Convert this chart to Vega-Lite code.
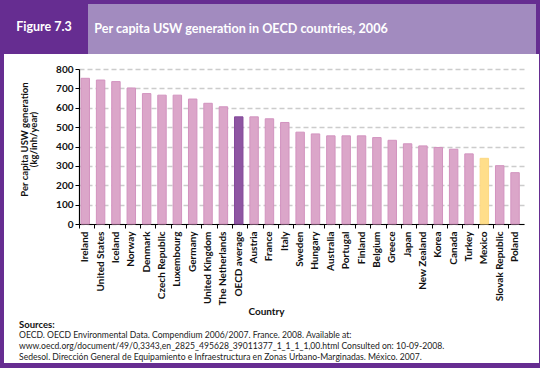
{
  "$schema": "https://vega.github.io/schema/vega-lite/v6.json",
  "padding": 0,
  "background": "white",
  "spacing": 0,
  "config": {
    "view": {"stroke": null},
    "concat": {"spacing": 0},
    "font": "Lato"
  },
  "vconcat": [
    {
      "spacing": 0,
      "bounds": "flush",
      "hconcat": [
        {
          "width": 88, "height": 54,
          "view": {"fill": "#662D91", "stroke": null},
          "data": {"values": [{"t": "Figure 7.3"}]},
          "mark": {"type": "text", "font": "Lato", "fontWeight": "bold", "fontSize": 12.5, "color": "white"},
          "encoding": {"text": {"field": "t"}}
        },
        {
          "spacing": 0,
          "bounds": "flush",
          "vconcat": [
            {
              "width": 452, "height": 4,
              "view": {"fill": "#662D91", "stroke": null},
              "data": {"values": []},
              "mark": "text"
            },
            {
              "spacing": 0,
              "bounds": "flush",
              "hconcat": [
                {
                  "width": 306, "height": 50,
                  "view": {"fill": "#A28BBF", "stroke": null},
                  "data": {"values": [{"t": "Per capita USW generation in OECD countries, 2006"}]},
                  "mark": {"type": "text", "font": "Lato", "fontWeight": "bold", "fontSize": 12.6, "color": "white"},
                  "encoding": {"text": {"field": "t"}}
                },
                {
                  "width": 142, "height": 50,
                  "view": {"fill": "#A28BBF", "stroke": null},
                  "data": {"values": []},
                  "mark": "text"
                },
                {
                  "width": 4, "height": 50,
                  "view": {"fill": "#662D91", "stroke": null},
                  "data": {"values": []},
                  "mark": "text"
                }
              ]
            }
          ]
        }
      ]
    },
    {
      "spacing": 0,
      "hconcat": [
        {
          "width": 4, "height": 309,
          "view": {"fill": "#662D91", "stroke": null},
          "data": {"values": []},
          "mark": "text"
        },
        {
          "width": 15, "height": 10,
          "data": {"values": []},
          "mark": "text"
        },
        {
          "spacing": 0,
          "vconcat": [
            {
              "width": 1, "height": 10,
              "data": {"values": []},
              "mark": "text"
            },
            {
              "width": 445,
              "height": 155,
              "data": {
                "values": [
                  {"country": "Ireland", "value": 752, "kind": "country"},
                  {"country": "United States", "value": 743, "kind": "country"},
                  {"country": "Iceland", "value": 735, "kind": "country"},
                  {"country": "Norway", "value": 702, "kind": "country"},
                  {"country": "Denmark", "value": 673, "kind": "country"},
                  {"country": "Czech Republic", "value": 665, "kind": "country"},
                  {"country": "Luxembourg", "value": 665, "kind": "country"},
                  {"country": "Germany", "value": 645, "kind": "country"},
                  {"country": "United Kingdom", "value": 623, "kind": "country"},
                  {"country": "The Netherlands", "value": 605, "kind": "country"},
                  {"country": "OECD average", "value": 553, "kind": "average"},
                  {"country": "Austria", "value": 553, "kind": "country"},
                  {"country": "France", "value": 543, "kind": "country"},
                  {"country": "Italy", "value": 524, "kind": "country"},
                  {"country": "Sweden", "value": 474, "kind": "country"},
                  {"country": "Hungary", "value": 465, "kind": "country"},
                  {"country": "Australia", "value": 455, "kind": "country"},
                  {"country": "Portugal", "value": 455, "kind": "country"},
                  {"country": "Finland", "value": 455, "kind": "country"},
                  {"country": "Belgium", "value": 446, "kind": "country"},
                  {"country": "Greece", "value": 432, "kind": "country"},
                  {"country": "Japan", "value": 414, "kind": "country"},
                  {"country": "New Zealand", "value": 403, "kind": "country"},
                  {"country": "Korea", "value": 395, "kind": "country"},
                  {"country": "Canada", "value": 386, "kind": "country"},
                  {"country": "Turkey", "value": 362, "kind": "country"},
                  {"country": "Mexico", "value": 339, "kind": "mexico"},
                  {"country": "Slovak Republic", "value": 301, "kind": "country"},
                  {"country": "Poland", "value": 265, "kind": "country"}
                ]
              },
              "mark": {"type": "bar", "strokeWidth": 1},
              "encoding": {
                "x": {
                  "field": "country", "type": "nominal", "sort": null,
                  "title": "Country",
                  "scale": {"paddingInner": 0.45, "paddingOuter": 0.22, "align": 0.3},
                  "axis": {
                    "labelAngle": -90, "labelAlign": "right", "labelBaseline": "middle",
                    "labelFont": "Lato", "labelFontWeight": "bold", "labelFontSize": 10, "labelColor": "#111",
                    "labelPadding": 3,
                    "domainColor": "#000", "domainWidth": 1.2,
                    "tickColor": "#000", "tickSize": 4, "bandPosition": -0.24,
                    "titleFont": "Lato", "titleFontWeight": "bold", "titleFontSize": 10, "titleColor": "#111",
                    "titlePadding": 2, "titleX": 187
                  }
                },
                "y": {
                  "field": "value", "type": "quantitative",
                  "title": ["Per capita USW generation", "(kg/inh/year)"],
                  "scale": {"domain": [0, 800]},
                  "axis": {
                    "values": [0, 100, 200, 300, 400, 500, 600, 700, 800],
                    "labelFont": "Lato", "labelFontWeight": "bold", "labelFontSize": 10, "labelColor": "#111",
                    "labelPadding": 2,
                    "domainColor": "#000", "domainWidth": 1.2,
                    "tickColor": "#000", "tickSize": 4,
                    "grid": true, "gridColor": "#CCCCCC", "gridDash": [5, 3], "gridWidth": 1.3,
                    "minExtent": 26, "maxExtent": 26,
                    "titleFont": "Lato", "titleFontWeight": "bold", "titleFontSize": 9.5, "titleColor": "#111",
                    "titleLineHeight": 9, "titlePadding": 15, "titleY": 70
                  }
                },
                "fill": {
                  "field": "kind", "type": "nominal", "legend": null,
                  "scale": {"domain": ["country", "average", "mexico"], "range": ["#DBA6C9", "#8E56A2", "#FFDE8A"]}
                },
                "stroke": {
                  "field": "kind", "type": "nominal", "legend": null,
                  "scale": {"domain": ["country", "average", "mexico"], "range": ["#D293BF", "#84499A", "#FCD883"]}
                }
              },
              "title": {
                "text": "Sources:",
                "subtitle": [
                  "OECD. OECD Environmental Data. Compendium 2006/2007. France. 2008. Available at:",
                  "www.oecd.org/document/49/0,3343,en_2825_495628_39011377_1_1_1_1,00.html Consulted on: 10-09-2008.",
                  "Sedesol. Dirección General de Equipamiento e Infraestructura en Zonas Urbano-Marginadas. México. 2007."
                ],
                "orient": "bottom", "anchor": "start", "frame": "bounds",
                "font": "Lato", "fontWeight": "bold", "fontSize": 9.5, "color": "#111",
                "subtitleFont": "Lato", "subtitleFontSize": 8.6, "subtitleColor": "#222",
                "subtitleLineHeight": 11, "subtitlePadding": 2, "offset": 3
              }
            }
          ]
        },
        {
          "width": 15, "height": 10,
          "data": {"values": []},
          "mark": "text"
        },
        {
          "width": 4, "height": 309,
          "view": {"fill": "#662D91", "stroke": null},
          "data": {"values": []},
          "mark": "text"
        }
      ]
    },
    {
      "width": 540, "height": 5,
      "view": {"fill": "#662D91", "stroke": null},
      "data": {"values": []},
      "mark": "text"
    }
  ]
}
